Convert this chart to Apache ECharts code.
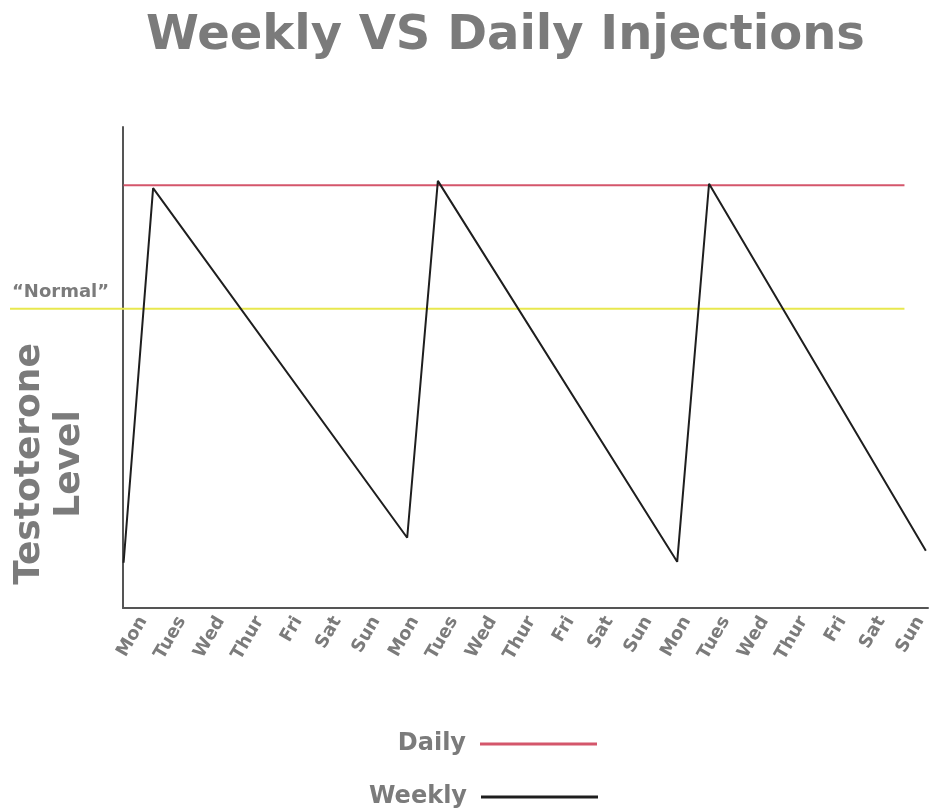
<!DOCTYPE html>
<html>
<head>
<meta charset="utf-8">
<title>Weekly VS Daily Injections</title>
<script src="https://cdn.jsdelivr.net/npm/echarts@6/dist/echarts.min.js"></script>
<style>
  body { margin: 0; background: #fff; }
  #chart { width: 935px; height: 810px; }
</style>
</head>
<body>
<div id="chart"></div>
<script>
// x labels, three weeks
const days = [
  'Mon', 'Tues', 'Wed', 'Thur', 'Fri', 'Sat', 'Sun',
  'Mon', 'Tues', 'Wed', 'Thur', 'Fri', 'Sat', 'Sun',
  'Mon', 'Tues', 'Wed', 'Thur', 'Fri', 'Sat', 'Sun',
]
// x in day units (0 = first Mon), level 0-100
const weeklyDay = [-0.5, 0.26, 6.8, 7.59, 13.75, 14.57, 20.15]
const weeklyLevel = [9.4, 87.3, 14.6, 88.8, 9.6, 88.2, 11.9]
const dailyDay = [-0.5, 19.6]
const dailyLevel = [87.9, 87.9]
const normalDay = [-3.42, 19.6]
const normalLevel = [62.2, 62.2]

const grey = '#7b7b7b'
const font = 'DejaVu Sans'
const dayMax = 20.206

function pairs(xs, ys) {
  return xs.map((x, i) => [x, ys[i]])
}

function hiddenAxis(extra) {
  return Object.assign({
    type: 'value',
    show: false,
    splitLine: { show: false },
  }, extra)
}

function setChart() {
  var chart = echarts.init(document.getElementById('chart'))
  chart.setOption({
    animation: false,
    title: {
      text: 'Weekly VS Daily Injections',
      left: 141,
      top: 8,
      textStyle: { fontFamily: font, fontSize: 48, fontWeight: 'bold', color: grey },
    },
    legend: [
      {
        data: ['Daily'],
        right: 338,
        top: 732,
        padding: 0,
        align: 'right',
        icon: 'rect',
        itemWidth: 117,
        itemHeight: 3,
        textStyle: { fontFamily: font, fontSize: 24, fontWeight: 'bold', color: grey, padding: [0, 9, 0, 0] },
      },
      {
        data: ['Weekly'],
        right: 337,
        top: 785,
        padding: 0,
        align: 'right',
        icon: 'rect',
        itemWidth: 117,
        itemHeight: 3,
        textStyle: { fontFamily: font, fontSize: 24, fontWeight: 'bold', color: grey, padding: [0, 9, 0, 0] },
      },
    ],
    grid: [
      // main plot
      { left: 123, right: 7, top: 127, bottom: 202 },
      // wider box so the "Normal" line can run out past the y axis
      { left: 10, right: 7, top: 127, bottom: 202 },
    ],
    xAxis: [
      {
        type: 'value',
        gridIndex: 0,
        min: -0.515,
        max: dayMax,
        axisLine: { lineStyle: { color: '#555', width: 2 } },
        axisTick: { show: false },
        splitLine: { show: false },
        axisLabel: {
          customValues: days.map((d, i) => i),
          formatter: (v) => days[Math.round(v)],
          rotate: 60,
          margin: 10,
          fontFamily: font,
          fontSize: 18,
          fontWeight: 'bold',
          color: grey,
        },
      },
      hiddenAxis({ gridIndex: 1, min: -3.42, max: dayMax }),
    ],
    yAxis: [
      {
        type: 'value',
        gridIndex: 0,
        min: 0,
        max: 100,
        axisLine: { show: true, onZero: false, lineStyle: { color: '#555', width: 2 } },
        axisTick: { show: false },
        axisLabel: { show: false },
        splitLine: { show: false },
      },
      hiddenAxis({ gridIndex: 1, min: 0, max: 100 }),
    ],
    graphic: [
      {
        type: 'text',
        x: 50,
        y: 464,
        rotation: Math.PI / 2,
        style: {
          text: 'Testoterone\nLevel',
          align: 'center',
          verticalAlign: 'middle',
          lineHeight: 40,
          font: 'bold 36px "DejaVu Sans"',
          fill: grey,
        },
      },
      {
        type: 'text',
        left: 12,
        top: 283,
        style: {
          text: '\u201cNormal\u201d',
          font: 'bold 18px "DejaVu Sans"',
          fill: grey,
        },
      },
    ],
    series: [
      {
        name: 'Normal',
        type: 'line',
        xAxisIndex: 1,
        yAxisIndex: 1,
        data: pairs(normalDay, normalLevel),
        symbol: 'none',
        lineStyle: { color: '#e8e84e', width: 2 },
        itemStyle: { color: '#e8e84e' },
      },
      {
        name: 'Daily',
        type: 'line',
        data: pairs(dailyDay, dailyLevel),
        symbol: 'none',
        lineStyle: { color: '#d4566b', width: 2 },
        itemStyle: { color: '#d4566b' },
      },
      {
        name: 'Weekly',
        type: 'line',
        data: pairs(weeklyDay, weeklyLevel),
        symbol: 'none',
        lineStyle: { color: '#1e1e1e', width: 2 },
        itemStyle: { color: '#1e1e1e' },
      },
    ],
  })
}

setChart()
</script>
</body>
</html>
